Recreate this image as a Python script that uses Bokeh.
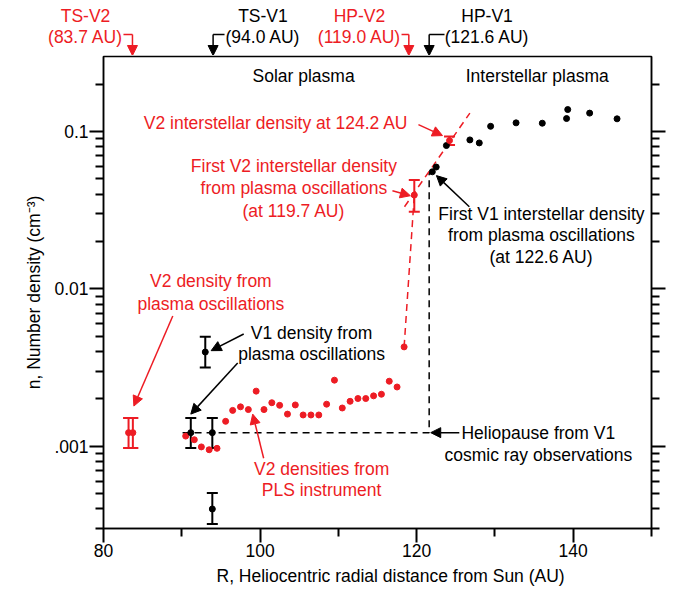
from bokeh.plotting import figure
from bokeh.layouts import column
from bokeh.models import (Range1d, FixedTicker, LogAxis, ColumnDataSource, Whisker,
                          TeeHead, Arrow, NormalHead, Label, Title)
from bokeh.embed import file_html
from bokeh.resources import INLINE

RED = "#ed1c24"
BLK = "#000000"
FONT = "Liberation Sans"
FS = "17.5px"

# ---- data ----
# Voyager 2 PLS instrument densities
v2_pls_r = [90.5, 91.6, 92.5, 93.5, 94.5, 95.6, 96.5, 97.5, 98.5, 99.5, 100.5, 101.5,
            102.5, 103.5, 104.5, 105.5, 106.5, 107.5, 108.5, 109.5, 110.5, 111.5, 112.5,
            113.5, 114.5, 115.5, 116.5, 117.5, 118.4]
v2_pls_n = [0.00116, 0.00110, 0.00099, 0.00095, 0.00097, 0.00144, 0.00169, 0.00178,
            0.00171, 0.00224, 0.00171, 0.00189, 0.00182, 0.00160, 0.00183, 0.00158,
            0.00158, 0.00158, 0.00185, 0.00263, 0.00175, 0.00193, 0.00201, 0.00201,
            0.00209, 0.00214, 0.00259, 0.00238, 0.00428]

# Voyager 2 densities from plasma oscillations (with error bars)
v2_po_r = [83.2, 83.75, 119.7, 124.2]
v2_po_n = [0.00122, 0.00122, 0.0395, 0.0877]
v2_po_lo = [0.000975, 0.000975, 0.0309, 0.0823]
v2_po_hi = [0.00151, 0.00151, 0.0492, 0.0929]

# Voyager 1 densities from plasma oscillations (with error bars)
v1_po_r = [91.15, 93.0, 93.9, 93.9]
v1_po_n = [0.00122, 0.00397, 0.00122, 0.000399]
v1_po_lo = [0.000975, 0.00316, 0.000975, 0.00032]
v1_po_hi = [0.00151, 0.00497, 0.00151, 0.000505]

# Voyager 1 interstellar densities
v1_is_r = [122.0, 122.5, 123.8, 126.8, 128.0, 129.45, 132.7, 136.05, 139.15, 139.3, 142.1, 145.6]
v1_is_n = [0.0555, 0.0595, 0.0815, 0.0885, 0.0847, 0.108, 0.1136, 0.113, 0.121, 0.138, 0.131, 0.1205]

# heliopause guide (V1 cosmic rays)
hp_r = [90.1, 121.6, 121.6]
hp_n = [0.00122, 0.00122, 0.055]
# V2 jump and interstellar trend
v2_jump_r = [118.4, 119.7]
v2_jump_n = [0.00428, 0.0395]
trend_r = [118.45, 126.8]
trend_n = [0.0333, 0.131]

# boundary crossings (AU)
cross_names = ["TS-V2", "TS-V1", "HP-V2", "HP-V1"]
cross_au = [83.7, 94.0, 119.0, 121.6]
cross_colors = [RED, BLK, RED, BLK]

x_major = [80, 100, 120, 140]
x_minor = [90, 110, 130, 150]
y_major = [0.001, 0.01, 0.1]
y_minor = [m * 10.0 ** e for e in (-4, -3, -2, -1) for m in range(2, 10)
           if 3e-4 <= m * 10.0 ** e <= 0.3]

# ---- layout constants (pixels) ----
W = 678
TOP_H = 55
MAIN_H = 538
BL, BR, BB, BT = 103, 27, 65, 1
X0, X1 = 80, 150
pxu = (W - BL - BR) / (X1 - X0)   # pixels per AU

# ---- top strip with crossing markers ----
ptop = figure(width=W, height=TOP_H, output_backend="svg", toolbar_location=None,
              x_range=Range1d(X0 - BL / pxu, X1 + BR / pxu), y_range=Range1d(0, TOP_H),
              x_axis_location=None, y_axis_location=None, frame_align=False,
              min_border_left=0, min_border_right=0, min_border_top=0, min_border_bottom=0)
ptop.outline_line_color = None
ptop.grid.visible = False
ptop.background_fill_color = "white"
ptop.border_fill_color = "white"

top_label_x = [77.70, 100.37, 112.70, 128.99]
bracket_from = [82.55, 95.46, 118.07, 123.56]
for name, au, col, lx, bx in zip(cross_names, cross_au, cross_colors, top_label_x, bracket_from):
    ptop.add_layout(Label(x=lx, y=40, text=name, text_color=col, text_font=FONT,
                          text_font_size=FS, text_align="center", text_baseline="middle"))
    ptop.add_layout(Label(x=lx, y=19, text=f"({au:.1f} AU)", text_color=col, text_font=FONT,
                          text_font_size=FS, text_align="center", text_baseline="middle"))
    ptop.add_layout(Arrow(x_start=bx, y_start=21, x_end=au, y_end=21, line_color=col,
                          line_width=1.5, end=None))
    ptop.add_layout(Arrow(x_start=au, y_start=21, x_end=au, y_end=0, line_color=col,
                          line_width=1.5,
                          end=NormalHead(size=10, fill_color=col, line_color=col, line_width=1)))

# ---- main plot ----
p = figure(width=W, height=MAIN_H, x_range=Range1d(X0, X1), y_range=Range1d(3e-4, 0.3),
           y_axis_type="log", output_backend="svg", toolbar_location=None, frame_align=False,
           min_border_left=BL, min_border_right=BR, min_border_top=BT, min_border_bottom=BB)
p.background_fill_color = "white"
p.border_fill_color = "white"
p.grid.visible = False
p.outline_line_color = "black"
p.outline_line_width = 1.5


def style_axis(ax):
    ax.axis_line_width = 1.5
    ax.axis_line_color = "black"
    ax.major_tick_line_width = 2
    ax.minor_tick_line_width = 2
    ax.major_tick_out = 14
    ax.major_tick_in = 0
    ax.minor_tick_out = 8
    ax.minor_tick_in = 0
    ax.major_label_text_font = FONT
    ax.major_label_text_font_size = FS
    ax.major_label_text_color = "black"
    ax.major_label_standoff = 1
    ax.axis_label_text_font = FONT
    ax.axis_label_text_font_size = FS
    ax.axis_label_text_font_style = "normal"
    ax.axis_label_text_color = "black"


xa = p.xaxis[0]
xa.ticker = FixedTicker(ticks=x_major, minor_ticks=x_minor)
style_axis(xa)
p.add_layout(Title(text="R, Heliocentric radial distance from Sun (AU)", align="left",
                   offset=113, standoff=9, text_font=FONT, text_font_size=FS,
                   text_font_style="normal", text_color="black"), "below")

ya = p.yaxis[0]
ya.ticker = FixedTicker(ticks=y_major, minor_ticks=y_minor)
style_axis(ya)
ya.major_label_overrides = {0.1: "0.1", 0.01: "0.01", 0.001: ".001"}
ya.axis_label = "n, Number density (cm\u207b\u00b3)"
ya.axis_label_standoff = 7

ra = LogAxis(ticker=FixedTicker(ticks=y_major, minor_ticks=y_minor))
style_axis(ra)
ra.major_label_overrides = {0.1: "", 0.01: "", 0.001: ""}
ra.major_label_text_font_size = "0px"
p.add_layout(ra, "right")

# guide lines
p.line(hp_r, hp_n, line_color=BLK, line_width=1.5, line_dash="7 5")
p.line(v2_jump_r, v2_jump_n, line_color=RED, line_width=1.5, line_dash="7 5")
p.line(trend_r, trend_n, line_color=RED, line_width=1.5, line_dash="7 5")


def bars(r, n, lo, hi, color):
    src = ColumnDataSource(dict(r=r, n=n, lo=lo, hi=hi))
    w = Whisker(source=src, base="r", upper="hi", lower="lo", dimension="height",
                line_color=color, line_width=2,
                upper_head=TeeHead(size=11, line_color=color, line_width=2),
                lower_head=TeeHead(size=11, line_color=color, line_width=2))
    p.add_layout(w)
    p.scatter("r", "n", source=src, size=6, color=color)


p.scatter(v2_pls_r, v2_pls_n, size=6, color=RED)
p.scatter(v1_is_r, v1_is_n, size=6, color=BLK)
bars(v2_po_r, v2_po_n, v2_po_lo, v2_po_hi, RED)
bars(v1_po_r, v1_po_n, v1_po_lo, v1_po_hi, BLK)


def text(x, y, lines, color, align="center", dy=21.5):
    for i, t in enumerate(lines):
        p.add_layout(Label(x=x, y=y, text=t, y_offset=-i * dy, text_color=color,
                           text_font=FONT, text_font_size=FS, text_align=align,
                           text_baseline="middle"))


def arrow(x0, y0, x1, y1, color):
    p.add_layout(Arrow(x_start=x0, y_start=y0, x_end=x1, y_end=y1, line_color=color,
                       line_width=1.5,
                       end=NormalHead(size=10, fill_color=color, line_color=color,
                                      line_width=1)))


# region labels
text(105.56, 0.224, ["Solar plasma"], BLK)
text(135.4, 0.227, ["Interstellar plasma"], BLK)

text(118.95, 0.113, ["V2 interstellar density at 124.2 AU"], RED, align="right")
arrow(120.23, 0.1108, 123.3, 0.0943, RED)

text(104.32, 0.0607, ["First V2 interstellar density", "from plasma oscillations",
                      "(at 119.7 AU)"], RED, dy=22.5)
arrow(116.91, 0.0421, 119.2, 0.0391, RED)

text(135.94, 0.0301, ["First V1 interstellar density", "from plasma oscillations",
                      "(at 122.6 AU)"], BLK)
arrow(126.73, 0.0333, 122.53, 0.0525, BLK)

text(93.72, 0.01125, ["V2 density from", "plasma oscillations"], RED, dy=23)
arrow(88.85, 0.00673, 83.88, 0.0018, RED)

text(106.58, 0.005207, ["V1 density from", "plasma oscillations"], BLK, dy=21)
arrow(97.91, 0.00517, 93.75, 0.00405, BLK)
arrow(97.14, 0.00338, 91.15, 0.0016, BLK)

text(107.86, 0.000714, ["V2 densities from", "PLS instrument"], RED, dy=20.5)
arrow(100.46, 0.000839, 99.06, 0.0016, RED)

text(135.54, 0.00121, ["Heliopause from V1", "cosmic ray observations"], BLK, dy=22)
arrow(125.45, 0.00122, 121.8, 0.00122, BLK)

layout = column(ptop, p, spacing=0)
open("out.html", "w").write(file_html(layout, INLINE))
